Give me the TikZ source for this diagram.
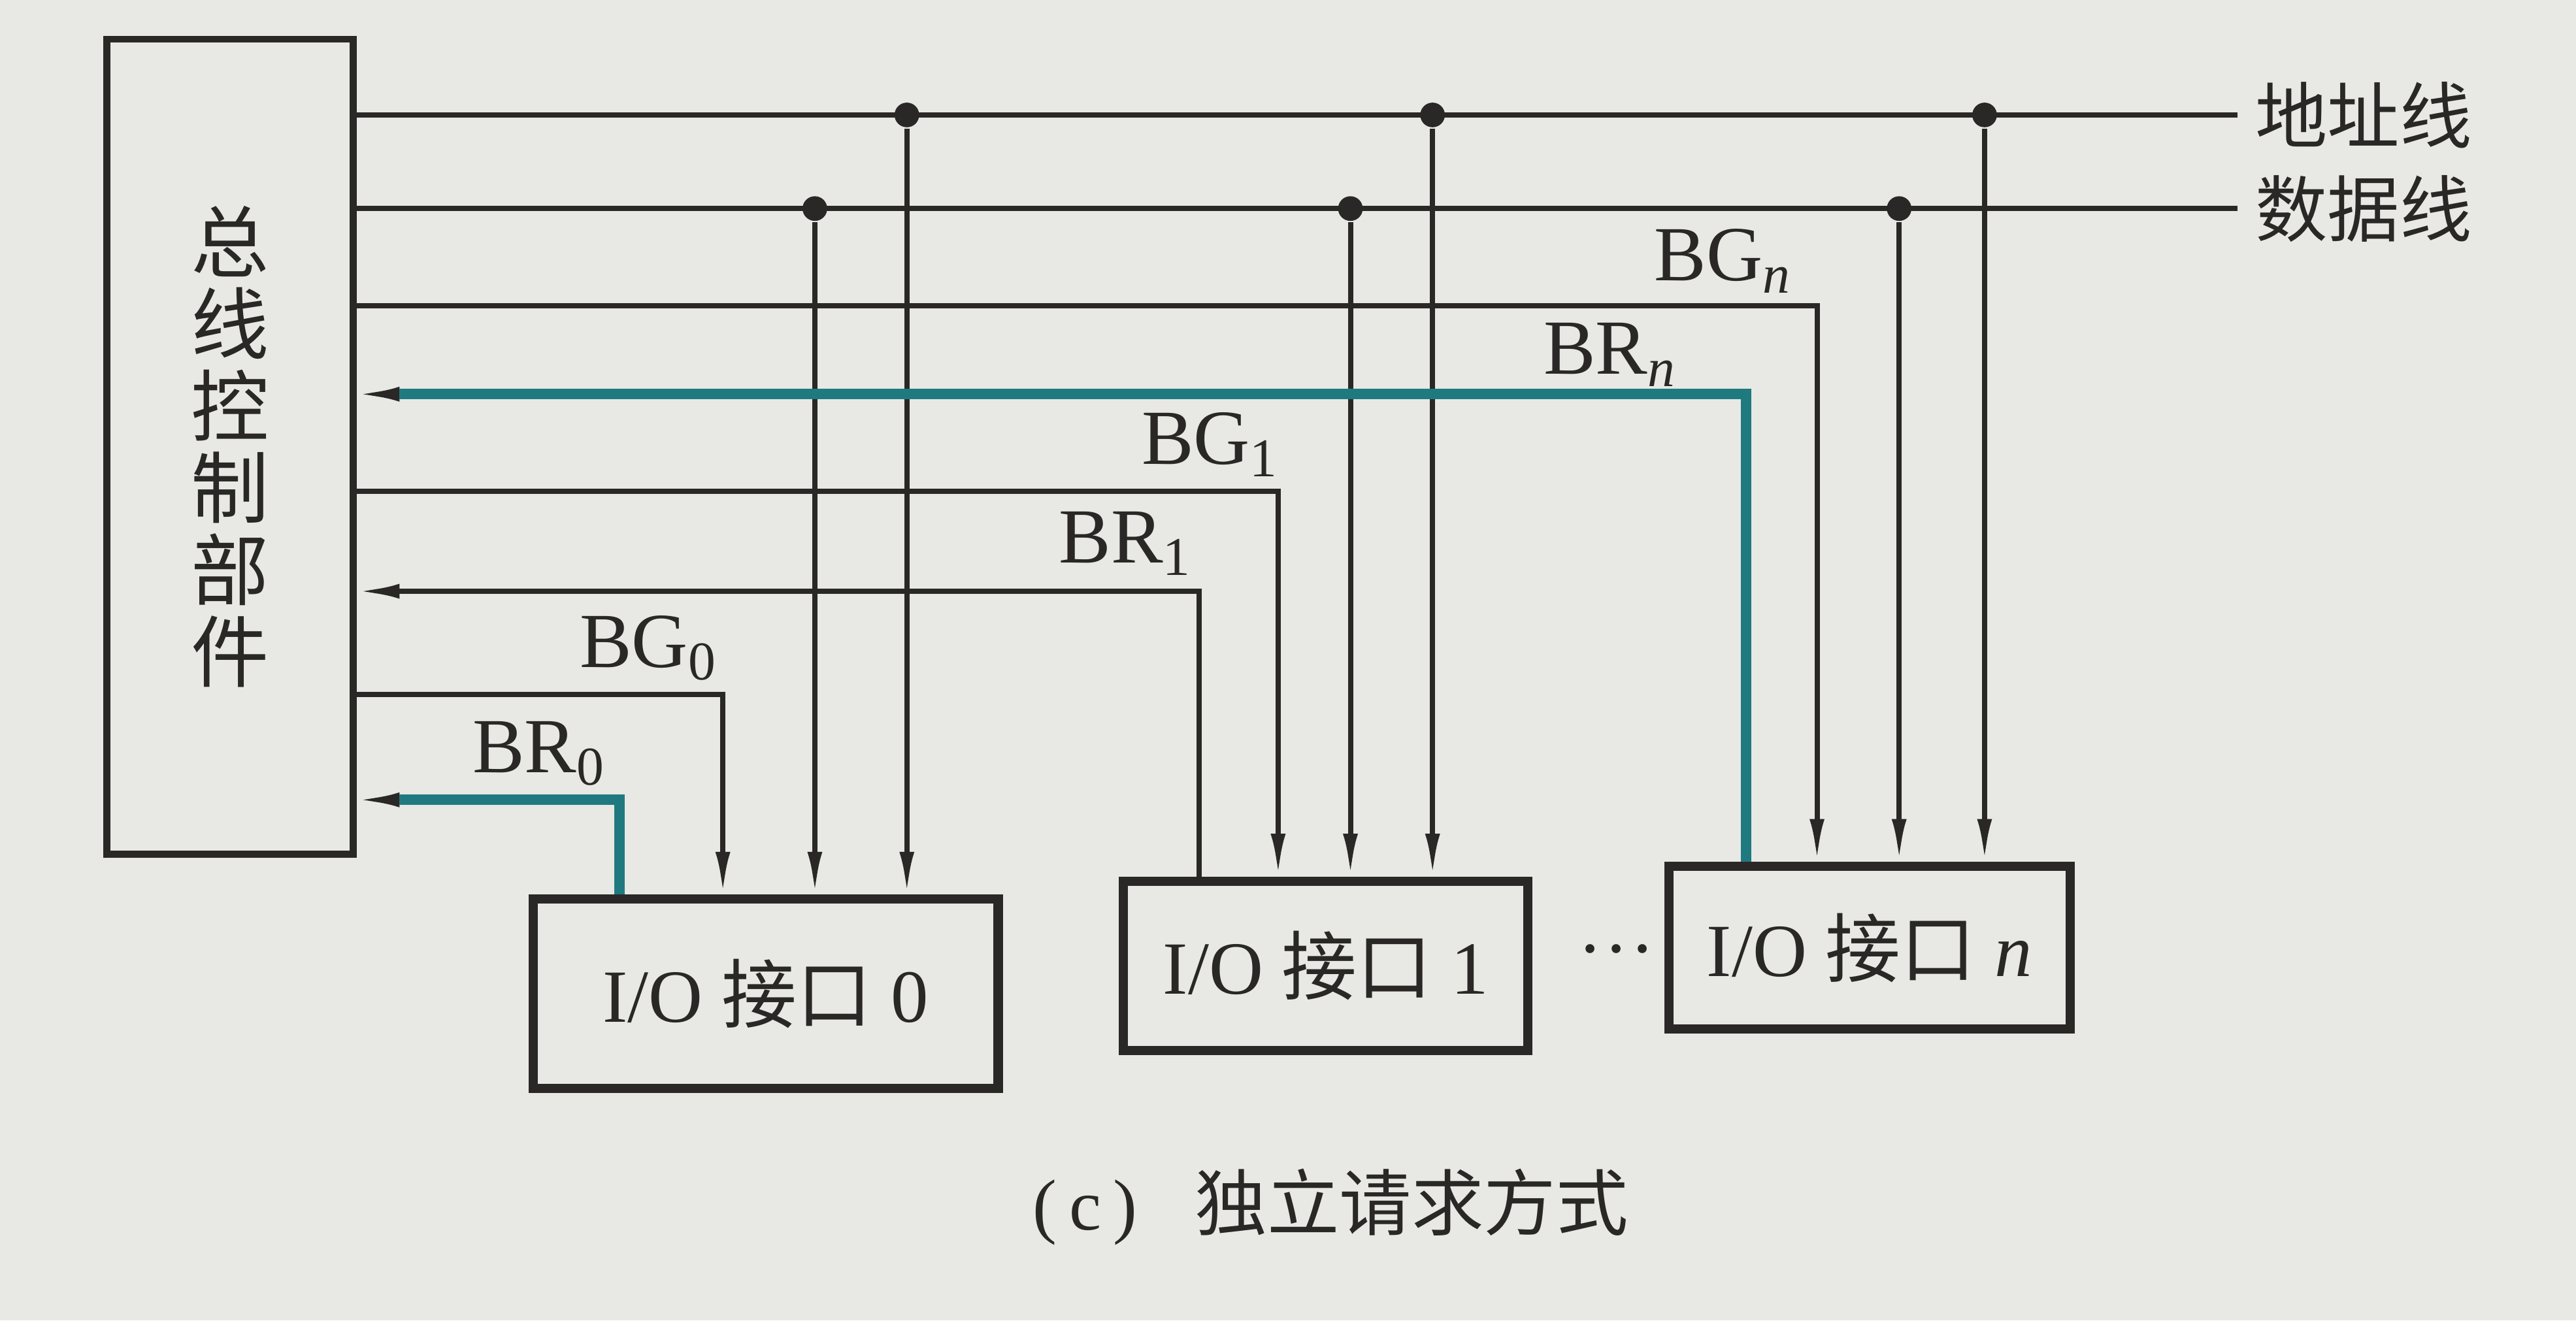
\documentclass[tikz,border=0pt]{standalone}
\usepackage{fontspec}
\setmainfont{Liberation Serif}
\newfontfamily\cjk{Noto Sans CJK SC}
\usetikzlibrary{arrows.meta}
\definecolor{paper}{HTML}{E8E8E4}
\definecolor{ink}{HTML}{2A2826}
\definecolor{marker}{HTML}{1F7A80}
\newcommand{\sig}[2]{#1\textsubscript{#2}}

\begin{document}
\begin{tikzpicture}[
  x=0.01cm, y=-0.01cm, color=ink,
  ctrlbox/.style={rectangle, draw, line width=1.2pt, align=center,
                  font={\fontsize{13.5}{14.2}\selectfont\cjk}},
  unit/.style={rectangle, draw, line width=1.6pt, align=center,
               font=\fontsize{13}{15}\selectfont},
  buslabel/.style={anchor=west, inner sep=0.1cm,
                   font={\fontsize{12.5}{14}\selectfont\cjk}},
  sigl/.style={anchor=south east, inner sep=0pt, font=\fontsize{13.5}{15}\selectfont},
  bus/.style={draw, line width=0.9pt},
  arr/.style={bus, -{Latex[length=0.26cm,width=0.09cm]}},
  hl/.style={draw=marker, line width=1.8pt},
  tap/.style={circle, fill, inner sep=0pt, minimum size=0.15cm},
]
  \fill[paper] (0,0) rectangle (1568,804);
  \useasboundingbox (0,0) rectangle (1568,804);

  % units
  \node[ctrlbox, minimum width=1.5cm, minimum height=4.96cm] (ctrl) at (140,272)
    {总\\线\\控\\制\\部\\件};
  \node[unit, minimum width=2.83cm, minimum height=1.15cm] (io0) at (466,605)
    {I/O {\cjk 接口} 0};
  \node[unit, minimum width=2.46cm, minimum height=1.03cm] (io1) at (807,588)
    {I/O {\cjk 接口} 1};
  \node[unit, minimum width=2.44cm, minimum height=0.99cm] (ion) at (1138,577)
    {I/O {\cjk 接口} \textit{n}};
  \node[font=\fontsize{6.5}{7}\selectfont] (more) at (984,580)
    {\textbullet\hspace{0.35em}\textbullet\hspace{0.35em}\textbullet};

  % address and data bus
  \node[buslabel] (addr) at (1362,70) {地址线};
  \node[buslabel] (data) at (1362,127) {数据线};
  \draw[bus] (ctrl.east |- addr) -- (addr.west);
  \draw[bus] (ctrl.east |- data) -- (data.west);

  \node[tap] (a0) at (552,70) {};
  \node[tap] (a1) at (872,70) {};
  \node[tap] (an) at (1208,70) {};
  \node[tap] (d0) at (496,127) {};
  \node[tap] (d1) at (822,127) {};
  \node[tap] (dn) at (1156,127) {};
  \draw[arr] (a0) -- (a0 |- io0.north);
  \draw[arr] (d0) -- (d0 |- io0.north);
  \draw[arr] (a1) -- (a1 |- io1.north);
  \draw[arr] (d1) -- (d1 |- io1.north);
  \draw[arr] (an) -- (an |- ion.north);
  \draw[arr] (dn) -- (dn |- ion.north);

  % grant lines
  \coordinate (bg0) at (440,423);
  \coordinate (bg1) at (778,299);
  \coordinate (bgn) at (1106,186);
  \draw[arr] (ctrl.east |- bg0) -| (bg0 |- io0.north);
  \draw[arr] (ctrl.east |- bg1) -| (bg1 |- io1.north);
  \draw[arr] (ctrl.east |- bgn) -| (bgn |- ion.north);

  % request lines
  \coordinate (br0) at (377,487);
  \coordinate (br1) at (730,360);
  \coordinate (brn) at (1063,240);
  \draw[arr] (br0 |- io0.north) |- (ctrl.east |- br0);
  \draw[arr] (br1 |- io1.north) |- (ctrl.east |- br1);
  \draw[arr] (brn |- ion.north) |- (ctrl.east |- brn);
  \draw[hl, shorten >=0.26cm] (br0 |- io0.north) |- (ctrl.east |- br0);
  \draw[hl, shorten >=0.26cm] (brn |- ion.north) |- (ctrl.east |- brn);

  \node[sigl] (lbg0) at (438,415) {\sig{BG}{0}};
  \node[sigl] (lbr0) at (370,479) {\sig{BR}{0}};
  \node[sigl] (lbg1) at (780,291) {\sig{BG}{1}};
  \node[sigl] (lbr1) at (727,351) {\sig{BR}{1}};
  \node[sigl] (lbgn) at (1092,179) {\sig{BG}{\textit{n}}};
  \node[sigl] (lbrn) at (1022,236) {\sig{BR}{\textit{n}}};

  \node[font=\fontsize{12.5}{14}\selectfont] (cap) at (810,735)
    {(\,c\,)\hspace{0.8em}{\cjk 独立请求方式}};
\end{tikzpicture}
\end{document}
